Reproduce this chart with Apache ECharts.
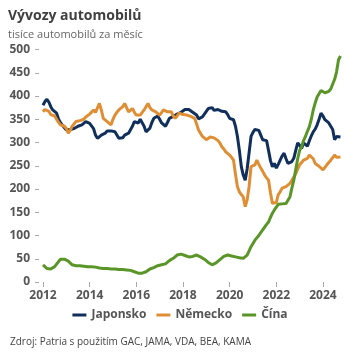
<!DOCTYPE html>
<html>
<head>
<meta charset="utf-8">
<script src="https://cdn.jsdelivr.net/npm/echarts@6/dist/echarts.min.js"></script>
<style>
html,body{margin:0;padding:0;background:#fff;}
#c{width:360px;height:360px;}
</style>
</head>
<body>
<div id="c"></div>
<script>
// Monthly values, Jan 2012 – Oct 2024 (thousand cars per month)
var startYear = 2012;
var seriesNames = ['Japonsko', 'Německo', 'Čína'];
var japan = [
380,388,393,387,377,370,366,363,350,343,337,333,
327,324,328,331,330,333,335,335,338,342,345,345,
341,338,330,316,309,312,316,316,320,325,328,325,
322,323,319,309,306,310,316,316,320,323,335,345,
343,342,350,352,335,323,326,331,343,352,355,357,
350,342,338,335,343,352,355,356,359,361,363,365,
368,371,373,371,370,365,361,359,351,349,355,359,
367,373,377,375,369,366,371,373,367,363,366,360,
352,351,349,335,313,283,248,230,219,243,278,313,
322,328,331,326,316,306,307,304,283,261,248,255,
245,253,262,271,277,265,255,255,259,266,283,299,
294,287,299,296,292,304,314,323,329,338,350,363,
357,349,345,342,335,328,306,313,309,312
];
var germany = [
366,371,373,367,360,356,357,350,343,338,337,335,
330,320,326,335,340,345,349,347,345,350,355,359,
361,363,370,365,363,384,370,352,350,345,343,338,
350,359,365,370,373,377,384,375,366,370,373,365,
359,357,359,363,370,377,384,375,370,367,366,363,
359,363,370,368,366,365,366,357,352,357,363,361,
360,359,359,363,356,354,352,340,327,320,313,309,
306,306,312,316,310,306,304,299,291,286,280,277,
273,268,262,232,205,194,188,183,162,176,205,248,
250,252,262,253,245,238,230,224,219,192,169,169,
171,188,194,202,204,205,208,212,219,226,233,243,
252,255,262,264,266,273,277,265,255,252,249,245,
241,238,252,255,262,265,273,268,271,269
];
var china = [
37,33,29,27,28,30,33,37,44,49,49,49,
48,45,41,37,36,35,35,35,34,34,34,33,
33,33,32,32,31,30,29,29,29,29,28,28,
28,28,28,27,27,27,26,26,25,25,23,22,
20,19,18,19,20,22,26,28,30,31,33,35,
36,37,37,39,43,46,48,51,55,58,60,60,
59,57,55,54,54,55,57,58,57,54,51,49,
46,42,39,37,38,41,45,48,51,55,57,58,
57,56,54,54,53,52,51,51,54,58,67,76,
83,90,94,100,106,112,118,124,129,139,148,155,
161,167,169,168,166,169,176,183,202,219,242,265,
283,291,304,313,324,334,350,370,385,398,405,412,
410,407,405,410,415,419,436,452,478,486
];
var xTicks = [2012, 2014, 2016, 2018, 2020, 2022, 2024];
var yTicks = [0, 50, 100, 150, 200, 250, 300, 350, 400, 450, 500];

function toPoints(arr) {
  return arr.map(function (v, i) { return [startYear + i / 12, v]; });
}

var FONT = '"Open Sans", "Noto Sans", sans-serif';
var colors = ['#102f5c', '#e08e34', '#5a9527'];
var allData = [japan, germany, china];

var chart = echarts.init(document.getElementById('c'), null, {renderer: 'canvas'});
chart.setOption({
  animation: false,
  color: colors,
  textStyle: {fontFamily: FONT},
  title: [
    {text: 'Vývozy automobilů', left: 3, top: 4,
     textStyle: {fontFamily: FONT, fontSize: 14, fontWeight: 'bold', color: '#404040'}},
    {text: 'tisíce automobilů za měsíc', left: 3, top: 24,
     textStyle: {fontFamily: FONT, fontSize: 11, fontWeight: 'normal', color: '#666'}},
    {text: 'Zdroj: Patria s použitím GAC, JAMA, VDA, BEA, KAMA', left: 5, top: 332,
     textStyle: {fontFamily: FONT, fontSize: 10, fontWeight: 'normal', color: '#444'}}
  ],
  legend: {
    data: seriesNames,
    bottom: 34,
    left: 'center',
    icon: 'rect',
    itemWidth: 14,
    itemHeight: 3,
    itemGap: 10,
    textStyle: {fontFamily: FONT, fontSize: 12, fontWeight: 'bold', color: '#555'}
  },
  grid: {left: 43, right: 13.7, top: 49.5, bottom: 78, containLabel: false},
  xAxis: {
    type: 'value',
    min: 2012,
    max: 2025,
    interval: 2,
    axisLine: {show: false},
    axisTick: {show: true, length: 5, lineStyle: {color: '#aaa'}, customValues: xTicks},
    axisLabel: {fontFamily: FONT, fontSize: 12, fontWeight: 'bold', color: '#555', margin: 8,
                customValues: xTicks, formatter: function (v) { return String(v); }},
    splitLine: {show: false}
  },
  yAxis: {
    type: 'value',
    min: 0,
    max: 500,
    interval: 50,
    offset: 4,
    axisLine: {show: false},
    axisTick: {show: true, length: 4, lineStyle: {color: '#aaa'}},
    axisLabel: {fontFamily: FONT, fontSize: 12, fontWeight: 'bold', color: '#555', margin: 9},
    splitLine: {show: false}
  },
  series: seriesNames.map(function (n, k) {
    return {
      name: n,
      type: 'line',
      data: toPoints(allData[k]),
      showSymbol: false,
      symbol: 'none',
      lineStyle: {width: 3, color: colors[k]},
      itemStyle: {color: colors[k]}
    };
  })
});
</script>
</body>
</html>
